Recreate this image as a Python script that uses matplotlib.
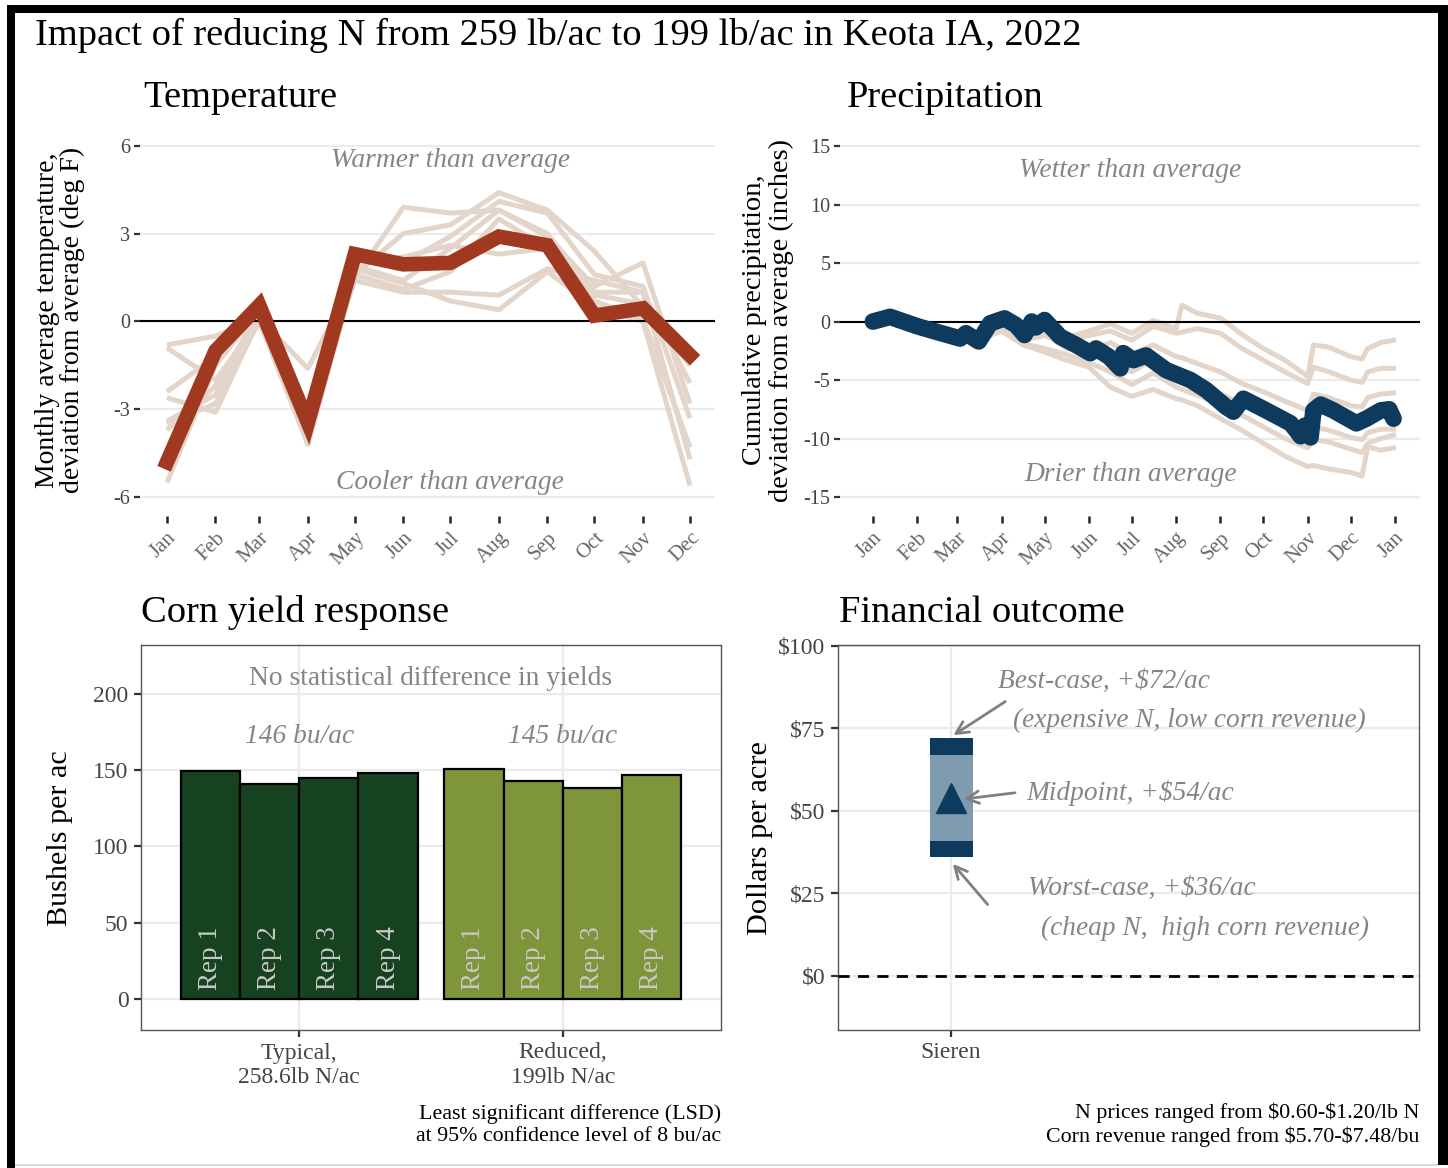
import matplotlib
matplotlib.use("Agg")
import matplotlib.pyplot as plt
from matplotlib.patches import Rectangle

plt.rcParams['font.family'] = ['Liberation Serif', 'DejaVu Serif']
plt.rcParams['axes.unicode_minus'] = False

W, H = 1448, 1168

# ---------------- data ----------------
month_labels = ['Jan', 'Feb', 'Mar', 'Apr', 'May', 'Jun', 'Jul', 'Aug', 'Sep', 'Oct', 'Nov', 'Dec']
month_days = [0, 31, 59, 90, 120, 151, 181, 212, 243, 273, 304, 334]

# temperature deviation (deg F), 2022 + other years
temp_2022 = [-4.8, -1.0, 0.55, -3.45, 2.3, 1.95, 2.0, 2.9, 2.6, 0.2, 0.45, -1.15]
temp_other = [
    [-0.8, -0.5, 0.1, -1.6, 1.5, 3.9, 3.7, 3.8, 3.0, 1.0, 1.0, -2.1],
    [-0.9, -2.0, 0.0, -3.5, 1.6, 3.0, 3.3, 4.4, 3.8, 2.4, 0.5, -1.5],
    [-2.4, -1.2, 0.2, -3.6, 2.2, 2.0, 2.9, 4.1, 3.7, 1.6, 1.2, -3.3],
    [-2.6, -3.1, 0.1, -3.8, 1.9, 1.4, 2.5, 3.8, 2.9, 1.2, 2.0, -2.8],
    [-3.5, -2.8, 0.0, -4.2, 1.6, 1.1, 1.7, 3.5, 2.5, 0.7, 0.1, -4.3],
    [-3.7, -2.2, 0.3, -3.3, 1.4, 1.0, 1.0, 0.9, 1.8, 1.4, 1.0, -4.7],
    [-5.5, -1.5, 0.4, -3.9, 1.8, 1.3, 0.7, 0.4, 1.7, 0.5, 0.0, -5.6],
    [-3.4, -2.5, 0.1, -3.6, 2.0, 2.2, 2.6, 2.3, 2.5, 0.9, 0.6, -1.3],
]

# cumulative precipitation deviation (inches), day of year
prec_days = [0, 12, 31, 45, 61, 65, 74, 82, 92, 100, 106, 111, 114, 120, 131, 142,
             152, 156, 165, 173, 175, 182, 191, 205, 222, 233, 247, 252, 259, 275,
             292, 296, 299, 302, 306, 308, 313, 322, 338, 345, 355, 361, 364]
prec_2022 = [0.0, 0.4, -0.4, -0.9, -1.45, -1.0, -1.7, -0.15, 0.27, -0.3, -1.15, 0.0,
             -0.5, 0.13, -1.3, -2.0, -2.7, -2.3, -3.0, -4.0, -2.7, -3.3, -2.9, -4.15,
             -5.0, -5.85, -7.3, -7.7, -6.6, -7.6, -8.7, -9.3, -9.8, -8.9, -9.9, -7.6,
             -7.1, -7.6, -8.7, -8.3, -7.6, -7.5, -8.3]
other_days = [0, 14, 31, 45, 59, 74, 90, 105, 120, 135, 151, 166, 181, 196, 212, 216,
              227, 243, 258, 273, 288, 304, 308, 319, 334, 342, 346, 355, 364]
prec_other = [
    [0, 0.3, -0.4, -0.9, -1.4, -1.2, 0.0, -0.9, -0.2, -1.4, -0.8, -0.2, -1.0, 0.1, -0.6,
     1.4, 0.7, 0.3, -1.1, -2.3, -3.3, -4.7, -2.0, -2.2, -3.0, -3.2, -2.3, -1.8, -1.6],
    [0, 0.3, -0.4, -0.9, -1.4, -1.3, -0.2, -1.0, -0.4, -1.6, -1.2, -0.8, -1.6, -0.4, -1.0,
     -0.9, -0.6, -1.0, -2.3, -3.3, -4.3, -5.3, -3.9, -4.3, -5.0, -5.2, -4.3, -4.0, -4.0],
    [0, 0.3, -0.4, -0.9, -1.4, -1.4, -0.4, -1.3, -0.9, -2.3, -2.6, -1.8, -2.8, -2.0, -3.0,
     -3.1, -3.6, -4.3, -5.3, -6.0, -6.8, -7.6, -6.2, -6.5, -7.2, -7.3, -6.5, -6.2, -6.1],
    [0, 0.3, -0.4, -0.9, -1.4, -1.5, -0.6, -1.6, -1.2, -2.0, -2.8, -3.3, -4.3, -3.2, -4.6,
     -5.1, -5.4, -6.2, -7.0, -8.0, -8.9, -9.7, -9.0, -9.3, -9.9, -10.1, -9.5, -9.2, -9.2],
    [0, 0.3, -0.4, -0.9, -1.4, -1.6, -0.7, -1.9, -2.3, -2.8, -3.5, -4.3, -5.4, -4.4, -5.6,
     -5.8, -6.3, -7.1, -8.0, -9.0, -10.0, -10.8, -10.1, -10.3, -10.9, -11.2, -10.4, -10.0, -9.7],
    [0, 0.3, -0.4, -0.9, -1.4, -1.6, -0.8, -2.0, -2.6, -3.3, -3.9, -5.6, -6.4, -5.8, -6.6,
     -6.7, -7.2, -8.3, -9.3, -10.4, -11.5, -12.4, -12.3, -12.6, -12.9, -13.2, -10.7, -11.0, -10.8],
]

# corn yield (bu/ac)
reps = ['Rep 1', 'Rep 2', 'Rep 3', 'Rep 4']
treatments = ['Typical,\n258.6lb N/ac', 'Reduced,\n199lb N/ac']
yield_typical = [149.6, 140.7, 145.0, 147.9]
yield_reduced = [151.0, 143.0, 138.0, 147.0]
mean_labels = ['146 bu/ac', '145 bu/ac']

# financial outcome ($/ac)
farm = 'Sieren'
best_case = 72
worst_case = 36
midpoint = 54

# ---------------- helpers ----------------
def fx(px):
    return px / W

def fy(py):
    return 1 - py / H

red = '#A0391F'
tan = '#E3D5CA'
navy = '#0E3A5E'
grid_c = '#EBEBEB'
note_c = '#858585'

fig = plt.figure(figsize=(W / 100, H / 100), dpi=100)

# black frame
for (x0, y0, w, h, c) in [(7, 5, 8, 1163, 'black'), (7, 5, 1441, 8, 'black'),
                          (1438, 5, 10, 1160, 'black'), (15, 1164, 1423, 2, '#d9d9d9')]:
    fig.add_artist(Rectangle((fx(x0), fy(y0 + h)), w / W, h / H, transform=fig.transFigure,
                             color=c, lw=0))

fig.text(fx(35), fy(45), 'Impact of reducing N from 259 lb/ac to 199 lb/ac in Keota IA, 2022',
         fontsize=27.7, va='baseline', ha='left')

def top_style(ax):
    for s in ax.spines.values():
        s.set_visible(False)
    ax.grid(axis='y', color=grid_c, lw=1.6, zorder=0)
    ax.set_axisbelow(True)
    ax.tick_params(axis='y', length=4, width=1.6, color='#333333', labelsize=14.5,
                   labelcolor='#444444', pad=3)
    ax.tick_params(axis='x', length=5, width=1.8, color='#222222', labelsize=15,
                   labelcolor='#666666', pad=4)
    for lab in ax.get_xticklabels():
        lab.set_rotation(45)
        lab.set_rotation_mode('anchor')
        lab.set_ha('right')
        lab.set_va('top')

# ---------------- Temperature ----------------
ax1 = fig.add_axes([fx(140), fy(516), 575 / W, 382 / H])
for line in temp_other:
    ax1.plot(month_days, line, color=tan, lw=3.6, solid_capstyle='butt', zorder=2)
ax1.axhline(0, color='black', lw=1.5, zorder=3)
ax1.plot(month_days, temp_2022, color=red, lw=10.5, solid_joinstyle='miter', zorder=4)
ax1.set_xlim(-17.2, 350)
ax1.set_ylim(-6.64, 6.4)
ax1.set_yticks([-6, -3, 0, 3, 6])
ax1.set_xticks(month_days)
ax1.set_xticklabels(month_labels)
top_style(ax1)
ax1.text(181, 5.48, 'Warmer than average', style='italic', color=note_c, fontsize=19.8,
         ha='center', va='center')
ax1.text(181, -5.5, 'Cooler than average', style='italic', color=note_c, fontsize=19.8,
         ha='center', va='center')
fig.text(fx(143), fy(107), 'Temperature', fontsize=27.7, va='baseline')
fig.text(fx(60), fy(320), 'Monthly average temperature,\ndeviation from average (deg F)',
         fontsize=20, rotation=90, ha='center', va='center', linespacing=1.0)

# ---------------- Precipitation ----------------
ax2 = fig.add_axes([fx(840), fy(516), 580 / W, 382 / H])
for line in prec_other:
    ax2.plot(other_days, line, color=tan, lw=3.6, zorder=2)
ax2.axhline(0, color='black', lw=1.5, zorder=3)
ax2.plot(prec_days, prec_2022, color=navy, lw=12, solid_capstyle='round',
         solid_joinstyle='round', zorder=4)
ax2.set_xlim(-23, 382.5)
ax2.set_ylim(-16.62, 16.03)
ax2.set_yticks([-15, -10, -5, 0, 5, 10, 15])
ax2.set_xticks(month_days + [365])
ax2.set_xticklabels(month_labels + ['Jan'])
top_style(ax2)
ax2.text(180, 12.95, 'Wetter than average', style='italic', color=note_c, fontsize=19.8,
         ha='center', va='center')
ax2.text(180, -13.1, 'Drier than average', style='italic', color=note_c, fontsize=19.8,
         ha='center', va='center')
fig.text(fx(847), fy(107), 'Precipitation', fontsize=27.7, va='baseline')
fig.text(fx(768), fy(320), 'Cumulative precipitation,\ndeviation from average (inches)',
         fontsize=20.5, rotation=90, ha='center', va='center', linespacing=1.05)

def bottom_style(ax):
    for s in ax.spines.values():
        s.set_color('#555555')
        s.set_linewidth(1.0)
    ax.grid(color=grid_c, lw=1.6, zorder=0)
    ax.set_axisbelow(True)
    ax.tick_params(length=5, width=1.6, color='#333333', labelsize=17,
                   labelcolor='#444444', pad=4)

# ---------------- Corn yield ----------------
ax3 = fig.add_axes([fx(141), fy(1030), 580 / W, 385 / H])
bar_w = 0.225
offsets = [-0.3375, -0.1125, 0.1125, 0.3375]
for gi, (vals, col) in enumerate([(yield_typical, '#16421F'), (yield_reduced, '#7F9539')]):
    xs = [gi + 1 + o for o in offsets]
    ax3.bar(xs, vals, width=bar_w, color=col, edgecolor='black', lw=1.6, zorder=2)
    for x, r in zip(xs, reps):
        ax3.text(x, 6, r, rotation=90, ha='center', va='bottom', fontsize=19.5,
                 color='#C9C9C9', zorder=3)
    ax3.text(gi + 1, 172, mean_labels[gi], style='italic', color=note_c, fontsize=19.7,
             ha='center', va='center')
ax3.text(1.5, 210, 'No statistical difference in yields', color=note_c, fontsize=19.8,
         ha='center', va='center')
ax3.set_xlim(0.4, 2.6)
ax3.set_ylim(-20.3, 232)
ax3.set_xticks([1, 2])
ax3.set_xticklabels(treatments, linespacing=1.2)
ax3.set_yticks([0, 50, 100, 150, 200])
bottom_style(ax3)
fig.text(fx(141), fy(622), 'Corn yield response', fontsize=27.7, va='baseline')
fig.text(fx(60), fy(838), 'Bushels per ac', fontsize=21.7, rotation=90, ha='center', va='center')
fig.text(fx(721), fy(1125), 'Least significant difference (LSD)\nat 95% confidence level of 8 bu/ac',
         fontsize=15.8, ha='right', va='center', linespacing=1.25)

# ---------------- Financial outcome ----------------
ax4 = fig.add_axes([fx(838), fy(1030), 581 / W, 385 / H])
box_w = 0.38
band = 5
ax4.bar(1, best_case - worst_case, bottom=worst_case, width=box_w, color='#7E9BB0', lw=0, zorder=2)
ax4.bar(1, band, bottom=best_case - band, width=box_w, color=navy, lw=0, zorder=3)
ax4.bar(1, band, bottom=worst_case, width=box_w, color=navy, lw=0, zorder=3)
ax4.plot(1, midpoint, marker='^', ms=21, color=navy, zorder=4)
ax4.axhline(0, color='black', lw=2, ls=(0, (4, 3)), zorder=3)
arrow = dict(arrowstyle='->', color='#808080', lw=2, mutation_scale=22)
ax4.annotate('', xy=(1.0, best_case + 0.5), xytext=(1.50, 83.6), arrowprops=arrow, zorder=5)
ax4.annotate('', xy=(1.087, midpoint - 0.5), xytext=(1.59, 55.6), arrowprops=arrow, zorder=5)
ax4.annotate('', xy=(1.0, worst_case - 1.4), xytext=(1.34, 21.0), arrowprops=arrow, zorder=5)
ann = dict(style='italic', color=note_c, fontsize=19.7, ha='left', va='center')
ax4.text(1.416, 89.4, 'Best-case, +\\$%d/ac' % best_case, **ann)
ax4.text(1.549, 77.3, '(expensive N, low corn revenue)', **ann)
ax4.text(1.67, 55.5, 'Midpoint, +\\$%d/ac' % midpoint, **ann)
ax4.text(1.68, 26.4, 'Worst-case, +\\$%d/ac' % worst_case, **ann)
ax4.text(1.80, 14.5, '(cheap N,  high corn revenue)', **ann)
ax4.set_xlim(0.0, 5.14)
ax4.set_ylim(-16.4, 100.3)
ax4.set_xticks([1])
ax4.set_xticklabels([farm])
ax4.set_yticks([0, 25, 50, 75, 100])
ax4.set_yticklabels(['\\$0', '\\$25', '\\$50', '\\$75', '\\$100'])
bottom_style(ax4)
fig.text(fx(839), fy(622), 'Financial outcome', fontsize=27.7, va='baseline')
fig.text(fx(760), fy(838), 'Dollars per acre', fontsize=21.9, rotation=90, ha='center', va='center')
fig.text(fx(1419), fy(1125), 'N prices ranged from \\$0.60-\\$1.20/lb N\nCorn revenue ranged from \\$5.70-\\$7.48/bu',
         fontsize=15.8, ha='right', va='center', linespacing=1.25)

fig.savefig('out.png', dpi=100, facecolor='white')
